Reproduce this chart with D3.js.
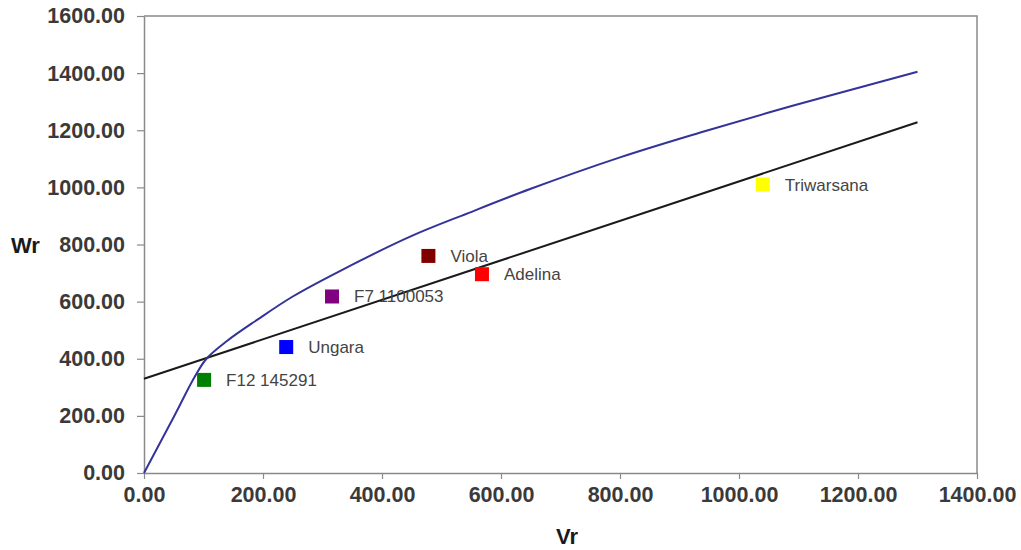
<!DOCTYPE html>
<html>
<head>
<meta charset="utf-8">
<script src="https://cdn.jsdelivr.net/npm/d3@7"></script>
<style>
  html, body { margin: 0; padding: 0; background: #fff; }
  svg { display: block; font-family: "Liberation Sans", Arial, sans-serif; }
</style>
</head>
<body>
<svg id="chart" width="1021" height="550"></svg>
<script>
// Axis ticks
const xTicks = [0, 200, 400, 600, 800, 1000, 1200, 1400];
const yTicks = [0, 200, 400, 600, 800, 1000, 1200, 1400, 1600];

// Upper boundary curve (Vr, Wr)
const curveVr = [0, 50, 85, 105, 140, 190, 250, 330, 450, 545, 650, 800, 935, 1050, 1150, 1300];
const curveWr = [0, 196, 336, 400, 463, 536, 618, 708, 830, 910, 995, 1105, 1192, 1262, 1320, 1405];

// Regression line (Vr, Wr)
const lineVr = [0, 1300];
const lineWr = [330, 1228];

// Varieties
const names  = ["F12 145291", "Ungara", "F7 1100053", "Viola", "Adelina", "Triwarsana"];
const vrVals = [101, 239, 316, 478, 568, 1040];
const wrVals = [326, 441, 618, 760, 696, 1010];
const colors = ["#008000", "#0000ff", "#800080", "#800000", "#ff0000", "#ffff00"];

const svg = d3.select("#chart");
const plotLeft = 144, plotTop = 16, plotRight = 977, plotBottom = 473;

const x = d3.scaleLinear().domain([0, 1400]).range([plotLeft, plotRight]);
const y = d3.scaleLinear().domain([0, 1600]).range([plotBottom, plotTop]);

// Plot frame (top and right edges)
svg.append("path")
  .attr("d", `M${plotLeft},${plotTop}H${plotRight}V${plotBottom}`)
  .attr("fill", "none")
  .attr("stroke", "#8a8a8a")
  .attr("stroke-width", 1.5);

// Y axis
const yAxis = svg.append("g")
  .attr("transform", `translate(${plotLeft},0)`)
  .call(d3.axisLeft(y).tickValues(yTicks).tickFormat(d3.format(".2f")).tickSize(7).tickPadding(12).tickSizeOuter(0));

// X axis
const xAxis = svg.append("g")
  .attr("transform", `translate(0,${plotBottom})`)
  .call(d3.axisBottom(x).tickValues(xTicks).tickFormat(d3.format(".2f")).tickSize(6).tickPadding(8).tickSizeOuter(0));

[yAxis, xAxis].forEach(g => {
  g.select(".domain").attr("stroke", "#8a8a8a").attr("stroke-width", 1.5);
  g.selectAll(".tick line").attr("stroke", "#8a8a8a").attr("stroke-width", 1.2);
  g.selectAll(".tick text")
    .attr("fill", "#3a3a3a")
    .style("font-size", "21.5px")
    .style("font-weight", "bold")
    .style("font-family", "'Liberation Sans', Arial, sans-serif");
});

// Regression line
const lineData = lineVr.map((v, i) => [v, lineWr[i]]);
svg.append("path")
  .datum(lineData)
  .attr("fill", "none")
  .attr("stroke", "#1a1a1a")
  .attr("stroke-width", 2)
  .attr("d", d3.line().x(d => x(d[0])).y(d => y(d[1])));

// Boundary curve
const curveData = curveVr.map((v, i) => [v, curveWr[i]]);
svg.append("path")
  .datum(curveData)
  .attr("fill", "none")
  .attr("stroke", "#333399")
  .attr("stroke-width", 2)
  .attr("d", d3.line().curve(d3.curveCatmullRom.alpha(0.5)).x(d => x(d[0])).y(d => y(d[1])));

// Variety markers and labels
const pts = names.map((n, i) => ({ name: n, vr: vrVals[i], wr: wrVals[i], color: colors[i] }));
const size = 14;
svg.append("g").selectAll("rect")
  .data(pts).join("rect")
  .attr("x", d => x(d.vr) - size / 2)
  .attr("y", d => y(d.wr) - size / 2)
  .attr("width", size)
  .attr("height", size)
  .attr("fill", d => d.color);

svg.append("g").selectAll("text")
  .data(pts).join("text")
  .attr("x", d => x(d.vr) + 22)
  .attr("y", d => y(d.wr) + 6)
  .attr("fill", "#444")
  .style("font-size", "17px")
  .text(d => d.name);

// Axis titles
svg.append("text")
  .attr("x", 11).attr("y", 253)
  .style("font-size", "22px").style("font-weight", "bold")
  .attr("fill", "#1a1a1a")
  .text("Wr");

svg.append("text")
  .attr("x", 567).attr("y", 544)
  .attr("text-anchor", "middle")
  .style("font-size", "22px").style("font-weight", "bold")
  .attr("fill", "#1a1a1a")
  .text("Vr");
</script>
</body>
</html>
